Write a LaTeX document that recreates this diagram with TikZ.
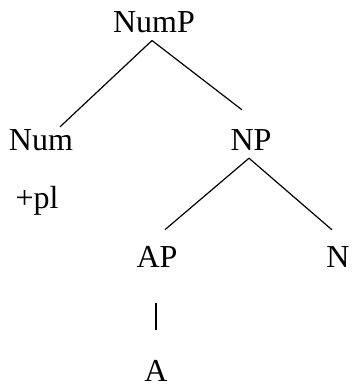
\documentclass[tikz,border=0pt]{standalone}
\usepackage{fontspec}
\setmainfont{Liberation Serif}
\begin{document}
\begin{tikzpicture}[x=1pt,y=-1pt,
  cat/.style={inner sep=0pt,anchor=base,font=\fontsize{32}{36}\selectfont},
  branch/.style={line width=1.2pt}]
\useasboundingbox (0,0) rectangle (351,385);
\node[cat] (nump) at (154,33) {NumP};
\node[cat] (num) at (41,150) {Num};
\node[cat] (np) at (251,150) {NP};
\node[cat] (pl) at (37,208) {+pl};
\node[cat] (ap) at (157,267) {AP};
\node[cat] (n) at (338,267) {N};
\node[cat] (a) at (156,381) {A};
\draw[branch] ([shift={(-2,7)}]nump.south) -- ([shift={(19,-2)}]num.north);
\draw[branch] ([shift={(-2,7)}]nump.south) -- ([shift={(-9,-19)}]np.north);
\draw[branch] ([shift={(-2,8)}]np.south) -- ([shift={(8,-16)}]ap.north);
\draw[branch] ([shift={(-2,8)}]np.south) -- ([shift={(-6,-16)}]n.north);
\draw[branch] ([shift={(-1,36)}]ap.south) -- ([shift={(0,-30)}]a.north);
\end{tikzpicture}
\end{document}
